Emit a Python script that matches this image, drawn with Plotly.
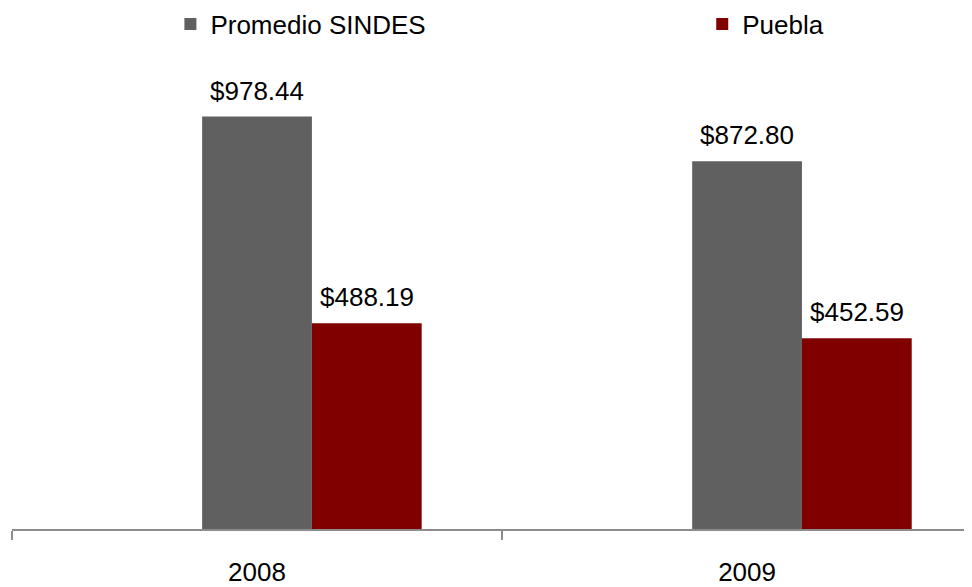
import plotly.graph_objects as go

# Data
years = ["2008", "2009"]
promedio_sindes = [978.44, 872.80]
puebla = [488.19, 452.59]

FONT = "Liberation Sans, Arial, sans-serif"
BAR_W = 0.224
OFFSETS = {"Promedio SINDES": -0.112, "Puebla": 0.112}

fig = go.Figure()

# Promedio SINDES (grey bars)
fig.add_trace(go.Bar(x=years, y=promedio_sindes,
                     name="Promedio SINDES",
                     marker=dict(color="#606060", line=dict(width=0)),
                     width=BAR_W, offset=OFFSETS["Promedio SINDES"],
                     legend="legend"))

# Puebla (dark red bars)
fig.add_trace(go.Bar(x=years, y=puebla,
                     name="Puebla",
                     marker=dict(color="#800000", line=dict(width=0)),
                     width=BAR_W, offset=OFFSETS["Puebla"],
                     legend="legend2"))

# value labels above each bar (x given as category index + bar centre)
for name, vals in [("Promedio SINDES", promedio_sindes), ("Puebla", puebla)]:
    centre = OFFSETS[name] + BAR_W / 2
    for i, v in enumerate(vals):
        fig.add_annotation(x=i + centre, y=v, xref="x", yref="y",
                           text="$" + f"{v:,.2f}",
                           showarrow=False, xanchor="center", yanchor="bottom",
                           yshift=9,
                           font=dict(family=FONT, size=26, color="#000000"))

legend_style = dict(orientation="h", yref="container", yanchor="middle", y=0.972,
                    xanchor="left",
                    font=dict(family=FONT, size=26, color="#000000"),
                    bgcolor="rgba(0,0,0,0)")

# the page body adds an 8px offset, so the figure is 964x579
fig.update_layout(
    width=964, height=579,
    margin=dict(l=4, r=0, t=46, b=58),
    paper_bgcolor="white", plot_bgcolor="white",
    font=dict(family=FONT, size=26, color="#000000"),
    showlegend=True,
    legend=dict(x=0.165, **legend_style),
    legend2=dict(x=0.719, **legend_style),
    xaxis=dict(type="category", range=[-0.5, 1.459], automargin=False,
               showline=True, linecolor="#8c8c8c", linewidth=2,
               ticks="outside", tickson="boundaries", ticklen=9,
               tickcolor="#8c8c8c", tickwidth=2,
               showgrid=False, zeroline=False,
               ticklabelstandoff=19,
               tickfont=dict(family=FONT, size=26, color="#000000")),
    yaxis=dict(visible=False, range=[0, 1127], showgrid=False, zeroline=False,
               automargin=False),
)

fig.write_html("out.html")
